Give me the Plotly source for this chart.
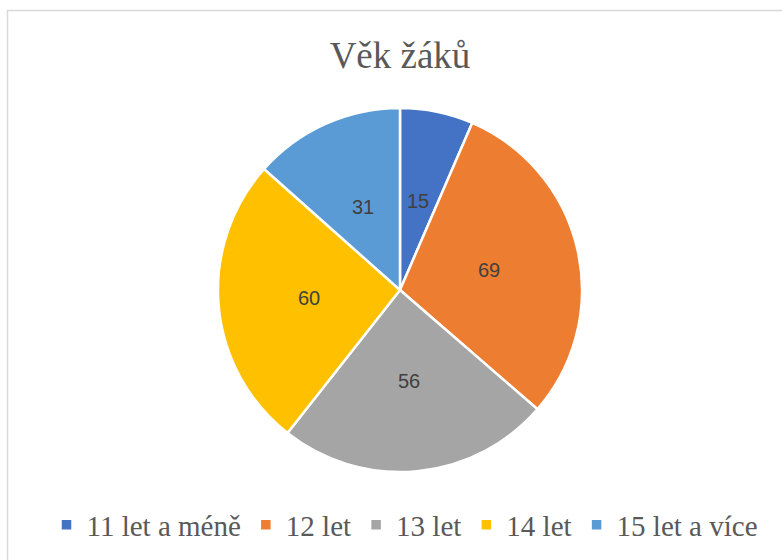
import math
import plotly.graph_objects as go

categories = ["11 let a méně", "12 let", "13 let", "14 let", "15 let a více"]
values = [15, 69, 56, 60, 31]
colors = ["#4472C4", "#ED7D31", "#A5A5A5", "#FFC000", "#5B9BD5"]
title_text = "Věk žáků"

W, H = 782, 560
CX, CY, R = 400, 290, 182  # pie centre / radius in pixels

fig = go.Figure(go.Pie(
    labels=categories,
    values=values,
    marker=dict(colors=colors, line=dict(color="white", width=2.5)),
    sort=False,
    direction="clockwise",
    rotation=0,
    textinfo="none",
    hoverinfo="label+value",
    domain=dict(x=[(CX - R) / W, (CX + R) / W], y=[1 - (CY + R) / H, 1 - (CY - R) / H]),
))

# value labels at half radius, placed from the data
total = sum(values)
cum = 0
annotations = []
for v in values:
    mid = (cum + v / 2) / total * 2 * math.pi
    cum += v
    px = CX + 0.5 * R * math.sin(mid)
    py = CY - 0.5 * R * math.cos(mid)
    annotations.append(dict(
        x=px / W, y=1 - py / H, xref="paper", yref="paper",
        text=str(v), showarrow=False,
        font=dict(family="Liberation Sans, Arial", size=20, color="#404040"),
        xanchor="center", yanchor="middle",
    ))

fig.update_layout(
    width=W, height=H,
    margin=dict(l=0, r=0, t=0, b=0),
    paper_bgcolor="white",
    plot_bgcolor="white",
    title=dict(text=title_text, x=400 / W, y=1 - 55 / H, xanchor="center", yanchor="middle",
               xref="paper", yref="paper",
               font=dict(family="Liberation Serif, Times New Roman", size=37, color="#595959")),
    showlegend=True,
    legend=dict(orientation="h", x=405 / W, y=1 - 525 / H, xanchor="center", yanchor="middle",
                font=dict(family="Liberation Serif, Times New Roman", size=29, color="#595959"),
                itemwidth=30, traceorder="normal"),
    annotations=annotations,
    shapes=[dict(type="rect", xref="paper", yref="paper",
                 x0=7.5 / W, x1=1.05, y0=-0.05, y1=1 - 10.5 / H,
                 line=dict(color="#D9D9D9", width=1.5), fillcolor="rgba(0,0,0,0)", layer="below")],
)

fig.write_html("out.html")
